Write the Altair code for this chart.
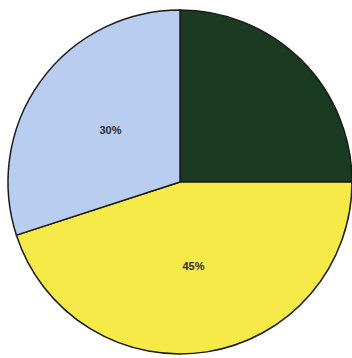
import altair as alt
import pandas as pd

categories = ["A", "B", "C"]
values = [25, 45, 30]
labels = ["", "45%", "30%"]
colors = ["#1b3a22", "#f6ea48", "#b8cdf0"]

df = pd.DataFrame({"cat": categories, "val": values, "label": labels,
                   "order": list(range(len(categories)))})

base = alt.Chart(df).encode(
    theta=alt.Theta("val:Q", stack=True),
    order=alt.Order("order:Q"),
    x=alt.value(180),
    y=alt.value(182),
)

arcs = base.mark_arc(radius=172, stroke="#1a1a1a", strokeWidth=1.5).encode(
    color=alt.Color("cat:N", scale=alt.Scale(domain=categories, range=colors), legend=None)
)

text = base.mark_text(radius=86, font="Liberation Sans", fontWeight="bold",
                      fontSize=11, color="#2a2a2a").encode(text="label:N")

chart = (arcs + text).properties(
    width=352, height=358, padding=0, autosize=alt.AutoSizeParams(type="none")
).configure_view(stroke=None)

chart.save("out.html", embed_options={"renderer": "svg", "actions": False})
